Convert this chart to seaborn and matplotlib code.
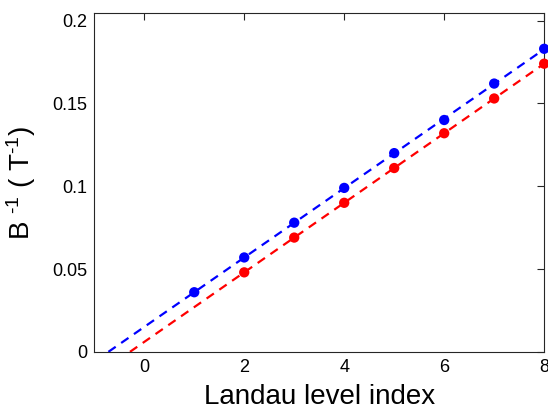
import numpy as np
import pandas as pd
import matplotlib
matplotlib.use("Agg")
import matplotlib.pyplot as plt
import seaborn as sns

blue_x = [1, 2, 3, 4, 5, 6, 7, 8]
blue_y = [0.036, 0.057, 0.078, 0.099, 0.120, 0.140, 0.162, 0.183]
red_x = [2, 3, 4, 5, 6, 7, 8]
red_y = [0.048, 0.069, 0.090, 0.111, 0.132, 0.153, 0.174]
x_ticks = [0, 2, 4, 6, 8]
y_ticks = [0, 0.05, 0.1, 0.15, 0.2]
y_tick_labels = ["0", "0.05", "0.1", "0.15", "0.2"]

sns.set_theme(style="white")
plt.rcParams['font.family'] = ['Liberation Sans', 'DejaVu Sans']
plt.rcParams['mathtext.fontset'] = 'custom'
plt.rcParams['mathtext.rm'] = 'Liberation Sans'
plt.rcParams['mathtext.it'] = 'Liberation Sans'
plt.rcParams['text.color'] = 'black'
plt.rcParams['axes.labelcolor'] = 'black'

fig = plt.figure(figsize=(5.48, 4.12), dpi=100)
ax = fig.add_axes([0.172, 0.146, 0.821, 0.822])

pts = pd.DataFrame({
    "x": blue_x + red_x,
    "y": blue_y + red_y,
    "s": ["blue"] * len(blue_x) + ["red"] * len(red_x),
})

lines = []
for name, xs, ys in [("blue", blue_x, blue_y), ("red", red_x, red_y)]:
    m, b = np.polyfit(xs, ys, 1)
    x0 = -b / m
    lines.append(pd.DataFrame({"x": [x0, 8], "y": [0, m * 8 + b], "s": name}))
lines = pd.concat(lines)

pal = {"blue": "#0000ff", "red": "#ff0000"}
sns.lineplot(data=lines, x="x", y="y", hue="s", palette=pal, ax=ax,
             linestyle=(0, (4, 3)), linewidth=1.6, legend=False, zorder=2)
sns.scatterplot(data=pts, x="x", y="y", hue="s", palette=pal, ax=ax,
                s=55, edgecolor="none", legend=False, zorder=3, clip_on=False)

ax.set_xlim(-1, 8)
ax.set_ylim(0, 0.2045)
ax.set_xticks(x_ticks)
ax.set_yticks(y_ticks)
ax.set_yticklabels(y_tick_labels)
ax.tick_params(direction="in", top=True, right=True, length=5, width=0.8,
               labelsize=13, colors="#262626", labelcolor="black", pad=5)
for sp in ax.spines.values():
    sp.set_color("#262626")
    sp.set_linewidth(0.8)
ax.set_xlabel("Landau level index", fontsize=20, labelpad=6, color="black")
ax.set_ylabel("B $^{\u2010 1}$ ( T$^{\u20101}$)", fontsize=20, labelpad=10,
              color="black")

fig.savefig("out.png", dpi=100)
